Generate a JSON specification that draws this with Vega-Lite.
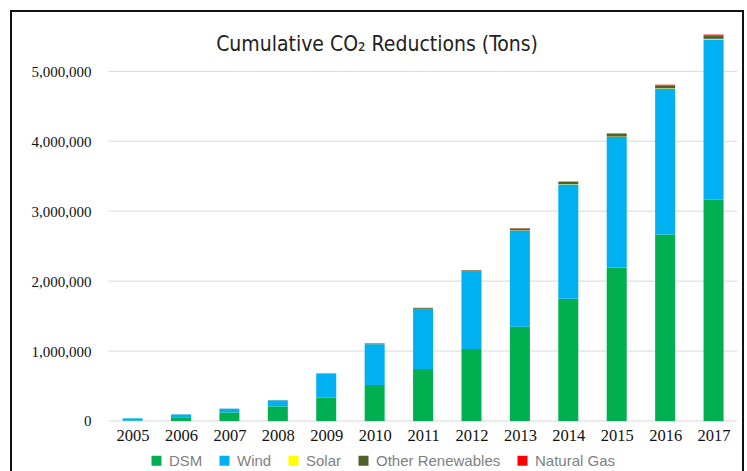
{
  "$schema": "https://vega.github.io/schema/vega-lite/v6.json",
  "width": 732,
  "height": 470,
  "autosize": {"type": "none"},
  "padding": {"left": 11, "top": 11, "right": 4, "bottom": 0},
  "background": "white",
  "config": {
    "view": {"stroke": "#111111", "strokeWidth": 2},
    "axis": {"grid": false, "domain": false, "ticks": false}
  },
  "title": {
    "text": "Cumulative CO₂ Reductions (Tons)",
    "font": "DejaVu Sans Condensed",
    "fontSize": 21,
    "fontWeight": "normal",
    "color": "#222222",
    "anchor": "middle",
    "offset": -44
  },
  "datasets": {
    "grid": [{"v": 0}, {"v": 1000000}, {"v": 2000000}, {"v": 3000000}, {"v": 4000000}, {"v": 5000000}],
    "bars": [
      {"year": 2005, "source": "DSM", "tons": 5000},
      {"year": 2005, "source": "Wind", "tons": 33000},
      {"year": 2005, "source": "Solar", "tons": 0},
      {"year": 2005, "source": "Other Renewables", "tons": 0},
      {"year": 2005, "source": "Natural Gas", "tons": 0},
      {"year": 2006, "source": "DSM", "tons": 45000},
      {"year": 2006, "source": "Wind", "tons": 49000},
      {"year": 2006, "source": "Solar", "tons": 0},
      {"year": 2006, "source": "Other Renewables", "tons": 500},
      {"year": 2006, "source": "Natural Gas", "tons": 0},
      {"year": 2007, "source": "DSM", "tons": 123000},
      {"year": 2007, "source": "Wind", "tons": 53000},
      {"year": 2007, "source": "Solar", "tons": 0},
      {"year": 2007, "source": "Other Renewables", "tons": 1000},
      {"year": 2007, "source": "Natural Gas", "tons": 0},
      {"year": 2008, "source": "DSM", "tons": 209000},
      {"year": 2008, "source": "Wind", "tons": 86000},
      {"year": 2008, "source": "Solar", "tons": 0},
      {"year": 2008, "source": "Other Renewables", "tons": 2000},
      {"year": 2008, "source": "Natural Gas", "tons": 0},
      {"year": 2009, "source": "DSM", "tons": 337000},
      {"year": 2009, "source": "Wind", "tons": 336000},
      {"year": 2009, "source": "Solar", "tons": 500},
      {"year": 2009, "source": "Other Renewables", "tons": 6000},
      {"year": 2009, "source": "Natural Gas", "tons": 0},
      {"year": 2010, "source": "DSM", "tons": 515000},
      {"year": 2010, "source": "Wind", "tons": 583000},
      {"year": 2010, "source": "Solar", "tons": 1000},
      {"year": 2010, "source": "Other Renewables", "tons": 10000},
      {"year": 2010, "source": "Natural Gas", "tons": 0},
      {"year": 2011, "source": "DSM", "tons": 743000},
      {"year": 2011, "source": "Wind", "tons": 860000},
      {"year": 2011, "source": "Solar", "tons": 1500},
      {"year": 2011, "source": "Other Renewables", "tons": 14000},
      {"year": 2011, "source": "Natural Gas", "tons": 0},
      {"year": 2012, "source": "DSM", "tons": 1029000},
      {"year": 2012, "source": "Wind", "tons": 1105000},
      {"year": 2012, "source": "Solar", "tons": 2000},
      {"year": 2012, "source": "Other Renewables", "tons": 18000},
      {"year": 2012, "source": "Natural Gas", "tons": 1000},
      {"year": 2013, "source": "DSM", "tons": 1349000},
      {"year": 2013, "source": "Wind", "tons": 1376000},
      {"year": 2013, "source": "Solar", "tons": 3000},
      {"year": 2013, "source": "Other Renewables", "tons": 25000},
      {"year": 2013, "source": "Natural Gas", "tons": 2000},
      {"year": 2014, "source": "DSM", "tons": 1749000},
      {"year": 2014, "source": "Wind", "tons": 1634000},
      {"year": 2014, "source": "Solar", "tons": 4000},
      {"year": 2014, "source": "Other Renewables", "tons": 33000},
      {"year": 2014, "source": "Natural Gas", "tons": 4000},
      {"year": 2015, "source": "DSM", "tons": 2196000},
      {"year": 2015, "source": "Wind", "tons": 1865000},
      {"year": 2015, "source": "Solar", "tons": 5000},
      {"year": 2015, "source": "Other Renewables", "tons": 37000},
      {"year": 2015, "source": "Natural Gas", "tons": 8000},
      {"year": 2016, "source": "DSM", "tons": 2668000},
      {"year": 2016, "source": "Wind", "tons": 2083000},
      {"year": 2016, "source": "Solar", "tons": 6000},
      {"year": 2016, "source": "Other Renewables", "tons": 41000},
      {"year": 2016, "source": "Natural Gas", "tons": 10000},
      {"year": 2017, "source": "DSM", "tons": 3168000},
      {"year": 2017, "source": "Wind", "tons": 2288000},
      {"year": 2017, "source": "Solar", "tons": 8000},
      {"year": 2017, "source": "Other Renewables", "tons": 47000},
      {"year": 2017, "source": "Natural Gas", "tons": 14000}
    ]
  },
  "layer": [
    {
      "data": {"name": "grid"},
      "mark": {"type": "rule", "color": "#d9d9d9", "strokeWidth": 1},
      "encoding": {
        "y": {"field": "v", "type": "quantitative"},
        "x": {"datum": 2004.507, "type": "quantitative"},
        "x2": {"datum": 2017.486}
      }
    },
    {
      "data": {"name": "bars"},
      "transform": [
        {"calculate": "indexof(['DSM','Wind','Solar','Other Renewables','Natural Gas'], datum.source)", "as": "stackOrder"}
      ],
      "mark": {"type": "bar", "size": 20},
      "encoding": {
        "x": {
          "field": "year",
          "type": "quantitative",
          "scale": {"domain": [2002.592, 2017.505], "nice": false, "zero": false},
          "axis": {
            "title": null,
            "values": [2005, 2006, 2007, 2008, 2009, 2010, 2011, 2012, 2013, 2014, 2015, 2016, 2017],
            "format": "d",
            "labelFont": "Liberation Serif",
            "labelFontSize": 16.5,
            "labelColor": "#111111",
            "offset": -60,
            "labelPadding": 6,
            "labelFlush": false,
            "labelOverlap": false
          }
        },
        "y": {
          "field": "tons",
          "type": "quantitative",
          "stack": "zero",
          "scale": {"domain": [-858000, 5862000], "nice": false, "zero": false},
          "axis": {
            "title": null,
            "values": [0, 1000000, 2000000, 3000000, 4000000, 5000000],
            "format": ",d",
            "labelFont": "Liberation Serif",
            "labelFontSize": 15,
            "labelColor": "#111111",
            "offset": -94,
            "labelPadding": 14
          }
        },
        "order": {"field": "stackOrder", "type": "quantitative", "sort": "ascending"},
        "color": {
          "field": "source",
          "type": "nominal",
          "sort": ["DSM", "Wind", "Solar", "Other Renewables", "Natural Gas"],
          "scale": {
            "domain": ["DSM", "Wind", "Solar", "Other Renewables", "Natural Gas"],
            "range": ["#00B050", "#00B0F0", "#FFFF00", "#4F6228", "#FF0000"]
          },
          "legend": {
            "orient": "none",
            "legendX": 138,
            "legendY": 442,
            "direction": "horizontal",
            "title": null,
            "symbolType": "square",
            "symbolSize": 100,
            "symbolStrokeWidth": 0,
            "labelFont": "Liberation Sans",
            "labelFontSize": 15,
            "labelColor": "#7f7f7f",
            "labelOffset": 5,
            "columnPadding": 14
          }
        }
      }
    }
  ]
}
